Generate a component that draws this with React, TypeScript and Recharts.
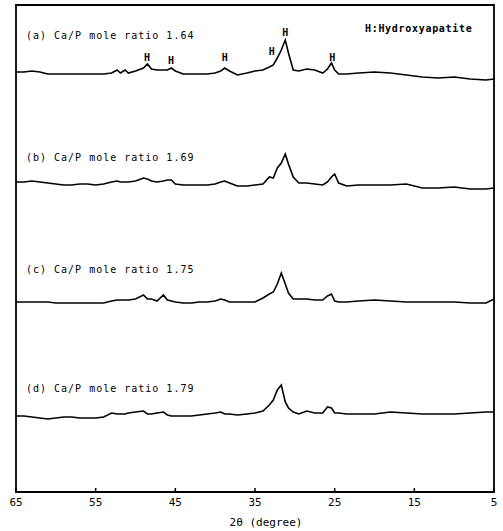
import React from 'react';
import { LineChart, Line, XAxis, YAxis, ReferenceArea, ReferenceDot } from 'recharts';

const MONO = '"DejaVu Sans Mono", "Liberation Mono", monospace';

// 2θ sampling points (degrees)
const twoTheta = [
  65, 64, 63, 62, 61, 60, 59, 58, 57, 56,
  55, 54, 53, 52.3, 51.9, 51.3, 50.9, 50, 49, 48.5,
  48, 47.3, 46.5, 46, 45.5, 45, 44, 43, 42, 41,
  40, 39.3, 38.8, 38.2, 37.2, 36, 35, 34, 33.2, 32.7,
  32.2, 31.7, 31.2, 30.8, 30.2, 29.5, 28.5, 27.5, 26.5, 25.9,
  25.4, 25, 24.5, 23.5, 22, 20, 18, 16, 14, 12,
  10, 8, 6, 5,
];

// intensities incl. vertical offset of each pattern (arbitrary units)
const ratio164 = [
  420, 420, 421, 420, 418, 418, 418, 418, 418, 418,
  418, 418, 419, 422, 419, 422, 419, 421, 424, 428,
  423, 422, 422, 422, 424, 421, 418, 418, 418, 418,
  419, 421, 424, 421, 417, 419, 421, 422, 425, 427,
  434, 442, 452, 439, 422, 421, 423, 422, 419, 423,
  429, 422, 418, 418, 419, 420, 419, 417, 415, 414,
  415, 413, 412, 413,
];
const ratio169 = [
  310, 310, 311, 310, 309, 308, 307, 307, 308, 308,
  307, 308, 310, 311, 310, 310, 310, 311, 314, 313,
  311, 310, 311, 312, 312, 308, 307, 307, 307, 307,
  308, 310, 311, 309, 306, 306, 307, 308, 315, 314,
  324, 329, 338, 328, 315, 309, 309, 308, 307, 310,
  315, 318, 309, 306, 307, 307, 307, 308, 304, 304,
  305, 303, 303, 304,
];
const ratio175 = [
  190, 190, 190, 190, 190, 189, 189, 189, 189, 189,
  189, 189, 191, 192, 192, 192, 192, 193, 197, 193,
  193, 191, 197, 192, 191, 190, 189, 189, 190, 190,
  191, 193, 192, 190, 190, 190, 190, 194, 198, 200,
  208, 219, 208, 199, 193, 193, 193, 192, 192, 196,
  198, 191, 190, 190, 191, 192, 191, 190, 190, 190,
  190, 189, 189, 193,
];
const ratio179 = [
  76, 76, 75, 74, 73, 74, 75, 75, 74, 74,
  74, 75, 79, 78, 78, 78, 79, 80, 81, 78,
  78, 79, 80, 77, 76, 76, 76, 76, 77, 78,
  79, 80, 78, 78, 77, 78, 79, 81, 87, 92,
  102, 107, 90, 84, 80, 78, 81, 79, 79, 85,
  84, 79, 79, 78, 78, 78, 80, 79, 78, 78,
  78, 79, 80, 80,
];

const xTicks = [65, 55, 45, 35, 25, 15, 5];

const traceLabels = [
  { text: '(a) Ca/P mole ratio 1.64', deg: 63.75, y: 457 },
  { text: '(b) Ca/P mole ratio 1.69', deg: 63.75, y: 335 },
  { text: '(c) Ca/P mole ratio 1.75', deg: 63.75, y: 223 },
  { text: '(d) Ca/P mole ratio 1.79', deg: 63.75, y: 104 },
];

const peakMarks = [
  { deg: 48.55, y: 435 },
  { deg: 45.55, y: 432 },
  { deg: 38.8, y: 435 },
  { deg: 32.9, y: 441 },
  { deg: 31.2, y: 460 },
  { deg: 25.3, y: 435 },
];

const note = { text: 'H:Hydroxyapatite', deg: 21.2, y: 464 };

const rows = twoTheta.map((deg, i) => ({
  deg,
  a: ratio164[i],
  b: ratio169[i],
  c: ratio175[i],
  d: ratio179[i],
}));

const textAt = (text: string, anchor: string, size: number, spacing: number, weight = 'normal') =>
  (props: any) => (
    <text
      x={props.viewBox.x}
      y={props.viewBox.y}
      dy="0.35em"
      textAnchor={anchor}
      fontSize={size}
      letterSpacing={spacing}
      fontWeight={weight}
      fontFamily={MONO}
      fill="#000"
    >
      {text}
    </text>
  );

const DegTick = ({ x, y, payload }: any) => (
  <g>
    <line x1={x} x2={x} y1={y} y2={y - 4} stroke="#000" strokeWidth={1.5} />
    <text x={x} y={y + 14} textAnchor="middle" fontSize={11} fontFamily={MONO} fill="#000">
      {payload.value}
    </text>
  </g>
);

export default function App() {
  return (
    <div style={{ position: 'absolute', left: 0, top: 0, background: '#fff' }}>
      <LineChart width={503} height={531} data={rows} margin={{ top: 5, right: 9, left: 16, bottom: 9 }}>
        <XAxis
          dataKey="deg"
          type="number"
          domain={[5, 65]}
          reversed
          ticks={xTicks}
          interval={0}
          axisLine={false}
          tickLine={false}
          tickSize={0}
          tickMargin={0}
          height={30}
          tick={<DegTick />}
          label={{
            value: '2θ (degree)',
            position: 'insideBottom',
            offset: -4,
            dx: 11,
            style: { fontFamily: MONO, fontSize: 11, fill: '#000' },
          }}
        />
        <YAxis type="number" domain={[0, 487]} hide width={0} allowDataOverflow />
        <ReferenceArea x1={65} x2={5} y1={0} y2={487} fill="none" stroke="#000" strokeWidth={1.8} />
        <Line type="linear" dataKey="a" stroke="#000" strokeWidth={1.6} dot={false} isAnimationActive={false} />
        <Line type="linear" dataKey="b" stroke="#000" strokeWidth={1.6} dot={false} isAnimationActive={false} />
        <Line type="linear" dataKey="c" stroke="#000" strokeWidth={1.6} dot={false} isAnimationActive={false} />
        <Line type="linear" dataKey="d" stroke="#000" strokeWidth={1.6} dot={false} isAnimationActive={false} />
        {traceLabels.map((t) => (
          <ReferenceDot key={t.text} x={t.deg} y={t.y} r={0} fill="none" stroke="none"
            label={textAt(t.text, 'start', 10, 1)} />
        ))}
        {peakMarks.map((p, i) => (
          <ReferenceDot key={i} x={p.deg} y={p.y} r={0} fill="none" stroke="none"
            label={textAt('H', 'middle', 10, 0, 'bold')} />
        ))}
        <ReferenceDot x={note.deg} y={note.y} r={0} fill="none" stroke="none"
          label={textAt(note.text, 'start', 10, 0.7, 'bold')} />
      </LineChart>
    </div>
  );
}
